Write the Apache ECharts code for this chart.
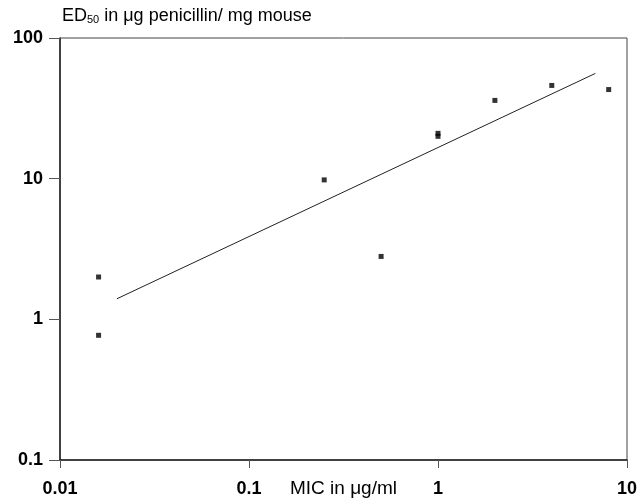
<!DOCTYPE html>
<html>
<head>
<meta charset="utf-8">
<script src="https://cdn.jsdelivr.net/npm/echarts@6/dist/echarts.min.js"></script>
<style>
  html, body { margin: 0; padding: 0; background: #fff; }
  #chart { width: 639px; height: 498px; }
</style>
</head>
<body>
<div id="chart"></div>
<script>
// MIC (µg/ml) vs ED50 (µg penicillin / mg mouse)
var micValues = [0.016, 0.016, 0.25, 0.5, 1, 1, 2, 4, 8];
var ed50Values = [2.0, 0.77, 9.8, 2.8, 21, 20, 36, 46, 43];

// regression line end points
var fitX = [0.02, 6.8];
var fitY = [1.4, 56];

var xTicks = [0.01, 0.1, 1, 10];
var yTicks = [0.1, 1, 10, 100];

drawChart();

function drawChart() {
    var chartDom = document.getElementById('chart');
    var myChart = echarts.init(chartDom);
    var option;

    var points = micValues.map(function (x, i) { return [x, ed50Values[i]]; });
    var fitLine = fitX.map(function (x, i) { return [x, fitY[i]]; });

    var tickFont = {
        color: '#000',
        fontFamily: 'Liberation Sans, Arial, sans-serif',
        fontWeight: 'bold',
        fontSize: 18
    };

    option = {
        animation: false,
        backgroundColor: '#fff',
        title: {
            text: '{a|ED}{s|50}{a| in μg penicillin/ mg mouse}',
            left: 57,
            top: 2,
            textStyle: {
                rich: {
                    a: { fontFamily: 'Liberation Sans, Arial, sans-serif', fontWeight: 'normal', fontSize: 18, color: '#000' },
                    s: { fontFamily: 'Liberation Sans, Arial, sans-serif', fontWeight: 'normal', fontSize: 11, color: '#000', verticalAlign: 'bottom', padding: [7, 0, 0, 0] }
                }
            }
        },
        grid: {
            left: 60,
            right: 12,
            top: 38,
            bottom: 38,
            outerBoundsMode: 'none',
            show: true,
            borderColor: '#444',
            borderWidth: 1
        },
        xAxis: {
            type: 'log',
            logBase: 10,
            min: 0.01,
            max: 10,
            name: 'MIC in μg/ml',
            nameLocation: 'middle',
            nameGap: 19,
            nameMoveOverlap: false,
            nameTextStyle: {
                color: '#000',
                fontFamily: 'Liberation Sans, Arial, sans-serif',
                fontSize: 19,
                verticalAlign: 'top'
            },
            axisLine: { lineStyle: { color: '#222', width: 1.5 } },
            axisTick: { show: true, length: 8, inside: false, lineStyle: { color: '#555' } },
            minorTick: { show: false },
            splitLine: { show: false },
            axisLabel: Object.assign({
                margin: 20,
                formatter: function (v) {
                    var hit = xTicks.find(function (t) { return Math.abs(Math.log10(t) - Math.log10(v)) < 1e-6; });
                    return hit !== undefined ? String(hit) : '';
                }
            }, tickFont)
        },
        yAxis: {
            type: 'log',
            logBase: 10,
            min: 0.1,
            max: 100,
            axisLine: { lineStyle: { color: '#222', width: 1.5 } },
            axisTick: { show: true, length: 11, inside: false, lineStyle: { color: '#555' } },
            minorTick: { show: false },
            splitLine: { show: false },
            axisLabel: Object.assign({
                margin: 17,
                formatter: function (v) {
                    var hit = yTicks.find(function (t) { return Math.abs(Math.log10(t) - Math.log10(v)) < 1e-6; });
                    return hit !== undefined ? String(hit) : '';
                }
            }, tickFont)
        },
        series: [
            {
                name: 'data',
                type: 'scatter',
                symbol: 'rect',
                symbolSize: 5,
                itemStyle: { color: '#000' },
                data: points,
                z: 3
            },
            {
                name: 'fit',
                type: 'line',
                data: fitLine,
                symbol: 'none',
                lineStyle: { color: '#222', width: 1 },
                z: 2
            }
        ]
    };

    option && myChart.setOption(option);
}
</script>
</body>
</html>
